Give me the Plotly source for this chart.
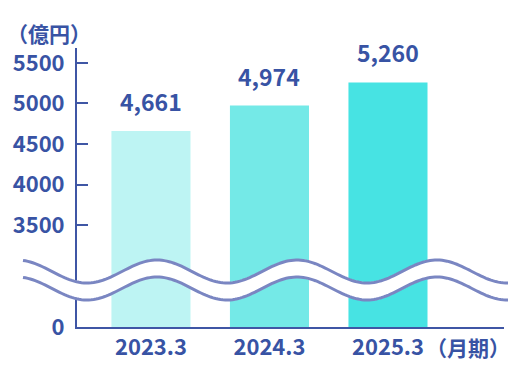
import numpy as np
import plotly.graph_objects as go

# ---- data ----
categories = ["2023.3", "2024.3", "2025.3"]
sales = [4661, 4974, 5260]
value_labels = ["4,661", "4,974", "5,260"]
tick_values = [3500, 4000, 4500, 5000, 5500]
tick_labels = ["3500", "4000", "4500", "5000", "5500"]
zero_label = "0"
y_unit = "（億円）"
x_unit = "（月期）"

# ---- styling ----
BAR_COLORS = ["#bdf4f3", "#74e9e7", "#47e3e3"]
TEXT = "#3853a4"
AXIS = "#3f56a5"
WAVE = "#7a86c2"
FONT = "Noto Sans CJK JP"

W, H = 528, 368
ML, MR, MT, MB = 77, 24, 48, 41
PW, PH = W - ML - MR, H - MT - MB
Y_FLOOR = 2241   # value shown at the broken baseline (labelled 0)
Y_TOP = 5685


def px(x):
    return (x - ML) / PW


def py(y):
    return (H - MB - y) / PH


def f(size):
    return dict(family=FONT, size=size, color=TEXT, weight=700)


fig = go.Figure()
fig.add_trace(go.Bar(
    x=categories, y=sales, marker=dict(color=BAR_COLORS, line=dict(width=0)),
    width=0.667, hoverinfo="skip",
))

for i, (v, t) in enumerate(zip(sales, value_labels)):
    fig.add_annotation(x=i, y=v, text=t, showarrow=False, xanchor="center",
                       yanchor="bottom", yshift=11, font=f(23))

# wave break decoration (pixel space -> paper)
xs = np.linspace(23, 508, 200)
up = 271.5 - 11.5 * np.cos(2 * np.pi * (xs - 17) / 140)
lo = up + 17


def path(xa, ya, close=False):
    s = "M " + " L ".join(f"{px(a):.5f},{py(b):.5f}" for a, b in zip(xa, ya))
    return s + (" Z" if close else "")


fig.add_shape(type="path", xref="paper", yref="paper", layer="above",
              path=path(np.concatenate([xs, xs[::-1]]), np.concatenate([up - 1, (lo + 1)[::-1]]), True),
              fillcolor="white", line=dict(width=0))
for yy in (up, lo):
    fig.add_shape(type="path", xref="paper", yref="paper", layer="above",
                  path=path(xs, yy), line=dict(color=WAVE, width=3))

fig.add_annotation(xref="paper", yref="paper", x=px(49), y=py(33), text=y_unit,
                   xanchor="center", yanchor="middle", showarrow=False, font=f(21))
fig.add_annotation(xref="paper", yref="paper", x=px(468), y=py(347), text=x_unit,
                   xanchor="center", yanchor="middle", showarrow=False, font=f(21))

fig.update_layout(
    width=W, height=H, margin=dict(l=ML, r=MR, t=MT, b=MB, autoexpand=False),
    plot_bgcolor="white", paper_bgcolor="white", showlegend=False,
    font=dict(family=FONT, color=TEXT),
    xaxis=dict(type="category", range=[-0.624, 2.979], showline=True, linecolor=AXIS,
               linewidth=2, ticks="", showgrid=False, zeroline=False, automargin=False,
               tickfont=f(22)),
    yaxis=dict(range=[Y_FLOOR, Y_TOP], showline=True, linecolor=AXIS, linewidth=2,
               showgrid=False, zeroline=False, ticks="inside", ticklen=11, tickwidth=2,
               tickcolor=AXIS, tickvals=[Y_FLOOR] + tick_values, automargin=False,
               ticktext=[zero_label] + tick_labels, ticklabelstandoff=6,
               tickfont=f(22)),
)
fig.write_html("out.html", config={"displayModeBar": False},
               post_script="document.body.style.margin='0';document.body.style.overflow='hidden';")
